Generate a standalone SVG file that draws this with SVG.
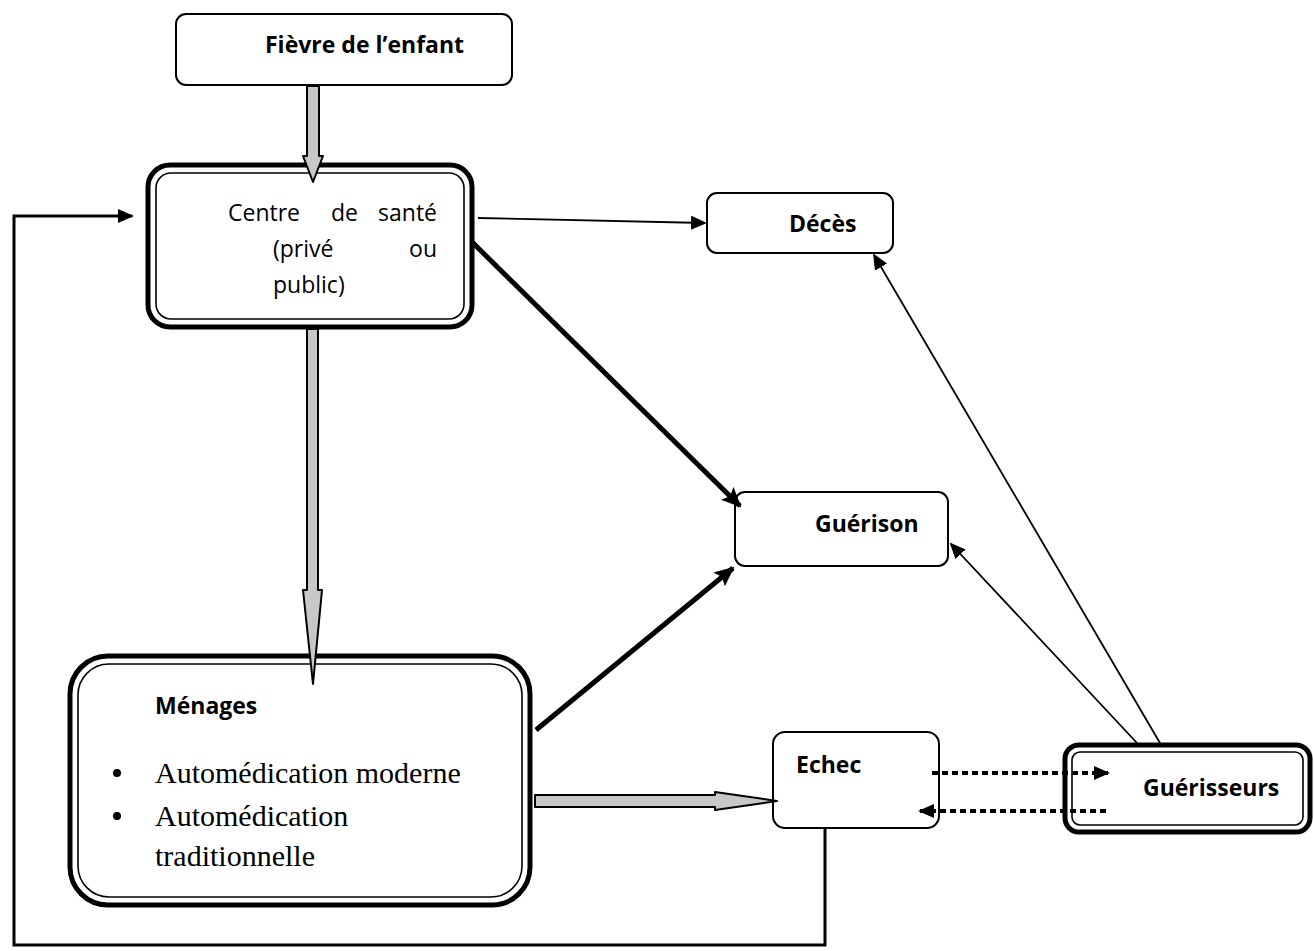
<svg xmlns="http://www.w3.org/2000/svg" width="1314" height="951" viewBox="0 0 1314 951">
<style>
.box{fill:#fff;stroke:#000;stroke-width:2}
.outer{fill:#fff;stroke:#000;stroke-width:5}
.inner{fill:none;stroke:#000;stroke-width:1.6}
.lbl{font-family:"Open Sans","Liberation Sans",sans-serif;font-size:23px;fill:#000}
.b{font-weight:bold}
.tm{font-family:"Liberation Serif","Times New Roman",serif;font-size:30px;fill:#000}
.thin{fill:none;stroke:#000;stroke-width:1.8}
.thick{fill:none;stroke:#000;stroke-width:5}
.dot{fill:none;stroke:#000;stroke-width:4;stroke-dasharray:6 4}
.block{fill:#c8c8c8;stroke:#000;stroke-width:2;stroke-linejoin:round}
</style>
<defs>
<marker id="ahs" markerWidth="16" markerHeight="14" refX="14" refY="7" orient="auto" markerUnits="userSpaceOnUse" viewBox="0 0 16 14">
<path d="M0,0 L16,7 L0,14 Z" fill="#000"/>
</marker>
<marker id="ahb" markerWidth="20" markerHeight="18" refX="18" refY="9" orient="auto" markerUnits="userSpaceOnUse" viewBox="0 0 20 18">
<path d="M0,0 L20,9 L0,18 L4,9 Z" fill="#000"/>
</marker>
</defs>

<g id="fievre">
<rect class="box" x="176" y="14" width="336" height="71" rx="10"/>
<text class="lbl b" x="265" y="53">Fièvre de l’enfant</text>
</g>

<g id="centre">
<rect class="outer" x="148" y="165" width="324" height="162" rx="22"/>
<rect class="inner" x="156" y="173" width="308" height="146" rx="15"/>
<text class="lbl" x="228" y="221">Centre</text>
<text class="lbl" x="331" y="221">de</text>
<text class="lbl" x="437" y="221" text-anchor="end">santé</text>
<text class="lbl" x="273" y="257">(privé</text>
<text class="lbl" x="437" y="257" text-anchor="end">ou</text>
<text class="lbl" x="273" y="293">public)</text>
</g>

<g id="menages">
<rect class="outer" x="70" y="656" width="460" height="249" rx="38"/>
<rect class="inner" x="78" y="664" width="444" height="233" rx="31"/>
<text class="lbl b" x="155" y="714">Ménages</text>
<circle cx="117" cy="773" r="4"/>
<circle cx="117" cy="816" r="4"/>
<text class="tm" x="155" y="783">Automédication moderne</text>
<text class="tm" x="155" y="826">Automédication</text>
<text class="tm" x="155" y="866">traditionnelle</text>
</g>

<g id="deces">
<rect class="box" x="707" y="193" width="186" height="60" rx="10"/>
<text class="lbl b" x="789" y="232">Décès</text>
</g>

<g id="guerison">
<rect class="box" x="735" y="492" width="213" height="74" rx="10"/>
<text class="lbl b" x="815" y="532">Guérison</text>
</g>

<g id="echec">
<rect class="box" x="773" y="732" width="166" height="96" rx="12"/>
<text class="lbl b" x="796" y="773">Echec</text>
</g>

<g id="guerisseurs">
<rect class="outer" x="1065" y="745" width="245" height="87" rx="14"/>
<rect class="inner" x="1072" y="752" width="231" height="73" rx="8"/>
<text class="lbl b" x="1143" y="796">Guérisseurs</text>
</g>

<g id="connectors">
<path class="block" d="M307,86 L319,86 L319,156 L323,156 L313,182 L303,156 L307,156 Z"/>
<path class="block" d="M307,329 L318,329 L318,590 L322,590 L313,684 L303,590 L307,590 Z"/>
<path class="block" d="M535,795 L715,795 L715,792 L777,801 L715,810 L715,807 L535,807 Z"/>
<line class="thin" x1="478" y1="218" x2="705" y2="223" marker-end="url(#ahs)"/>
<line class="thick" x1="472" y1="242" x2="740" y2="506" marker-end="url(#ahb)"/>
<line class="thick" x1="536" y1="730" x2="733" y2="568" marker-end="url(#ahb)"/>
<line class="dot" x1="932" y1="773" x2="1108" y2="773" marker-end="url(#ahs)"/>
<line class="dot" x1="1106" y1="811" x2="920" y2="811" marker-end="url(#ahs)"/>
<line class="thin" x1="1137" y1="743" x2="951" y2="544" marker-end="url(#ahs)"/>
<line class="thin" x1="1160" y1="743" x2="874" y2="255" marker-end="url(#ahs)"/>
<polyline fill="none" stroke="#000" stroke-width="3" points="825,829 825,945 14,945 14,216 132,216" marker-end="url(#ahs)"/>
</g>
</svg>
